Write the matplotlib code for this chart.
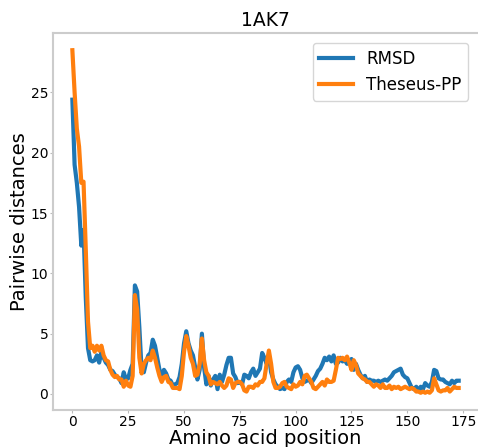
import matplotlib
matplotlib.use("Agg")
import matplotlib.pyplot as plt

# per-residue pairwise distances for 1AK7
rmsd = [24.4, 19.0, 17.5, 15.5, 12.3, 13.6, 8.0, 3.8, 2.8, 2.7,
        2.8, 3.2, 2.6, 3.5, 3.0, 2.6, 2.4, 2.0, 1.9, 1.6,
        1.4, 1.3, 0.9, 1.8, 1.2, 1.3, 2.0, 2.5, 9.0, 8.5,
        5.5, 2.0, 1.8, 2.6, 3.2, 3.4, 4.5, 4.0, 3.0, 2.0,
        1.5, 2.0, 1.7, 1.2, 1.1, 0.7, 0.8, 0.9, 1.4, 2.5,
        4.2, 5.2, 4.2, 3.6, 3.2, 2.2, 1.2, 2.0, 5.0, 2.2,
        0.8, 1.5, 0.7, 1.2, 1.5, 0.4, 1.6, 1.0, 1.6, 2.4,
        3.0, 3.0, 1.7, 1.4, 0.9, 1.0, 0.8, 1.6, 1.5, 1.3,
        1.8, 2.1, 1.5, 1.8, 2.1, 3.4, 3.0, 2.5, 3.2, 1.8,
        1.2, 0.8, 0.6, 0.4, 0.5, 0.4, 1.0, 1.2, 1.0, 1.8,
        2.2, 2.3, 2.0, 1.3, 1.0, 1.1, 1.2, 0.9, 1.2, 1.5,
        1.9, 2.1, 2.5, 3.0, 2.8, 3.1, 2.7, 3.2, 2.5, 2.6,
        3.0, 2.7, 2.8, 2.5, 2.7, 2.9, 2.0, 2.5, 2.0, 1.6,
        1.3, 1.5, 1.0, 1.2, 1.1, 1.1, 1.0, 1.1, 1.0, 1.1,
        1.2, 1.1, 1.3, 1.5, 1.8, 1.9, 2.0, 2.1, 1.6, 1.4,
        1.3, 0.9, 0.5, 0.4, 0.6, 0.3, 0.6, 0.4, 0.9, 0.7,
        0.6, 1.0, 2.0, 1.9, 1.3, 1.2, 1.2, 1.0, 0.9, 0.8,
        1.1, 0.9, 1.1, 1.1]

theseus = [28.5, 25.0, 22.0, 20.5, 17.5, 17.6, 12.0, 6.0, 3.8, 4.0,
           3.5, 4.0, 3.6, 4.0, 3.2, 2.8, 2.7, 2.0, 1.6, 1.4,
           1.5, 1.2, 1.2, 0.6, 1.1, 0.7, 0.6, 1.5, 8.2, 7.0,
           3.0, 1.7, 2.5, 2.8, 3.0, 2.8, 3.6, 3.0, 2.2, 1.5,
           1.0, 1.4, 1.5, 1.0, 0.9, 0.5, 0.5, 0.5, 0.4, 1.5,
           3.5, 4.8, 4.0, 3.0, 2.5, 1.5, 1.6, 2.5, 4.6, 2.8,
           1.8, 1.5, 0.8, 1.0, 0.9, 0.8, 1.0, 0.7, 0.5, 0.7,
           1.3, 1.2, 0.5, 0.9, 1.0, 1.0, 0.8, 0.3, 0.2, 0.6,
           0.6, 0.5, 0.8, 0.7, 1.0, 1.0, 1.3, 2.5, 3.6, 2.5,
           1.0, 0.5, 0.5, 0.6, 0.9, 1.0, 0.6, 0.5, 0.4, 0.8,
           0.6, 0.7, 1.0, 0.8, 1.5, 1.6, 1.3, 1.0, 0.5, 0.4,
           0.6, 0.8, 1.0, 0.7, 1.2, 1.0, 1.0, 1.1, 2.0, 3.0,
           2.9, 3.0, 2.8, 3.1, 2.6, 2.0, 2.8, 2.4, 1.7, 1.5,
           1.3, 1.2, 1.0, 1.0, 0.8, 0.6, 0.8, 0.7, 0.5, 0.8,
           0.5, 0.5, 0.7, 0.4, 0.6, 0.5, 0.6, 0.4, 0.5, 0.6,
           0.5, 0.4, 0.5, 0.4, 0.2, 0.2, 0.1, 0.2, 0.1, 0.2,
           0.1, 0.3, 1.3, 0.8, 0.3, 0.2, 0.3, 0.3, 0.5, 0.2,
           0.4, 0.6, 0.5, 0.5]

positions = list(range(len(rmsd)))

fig = plt.figure(figsize=(4.78, 4.47), dpi=100)
ax = fig.add_axes([0.111, 0.083, 0.889, 0.843])

ax.plot(positions, rmsd, color="#1f77b4", linewidth=3, label="RMSD")
ax.plot(positions, theseus, color="#ff7f0e", linewidth=3, label="Theseus-PP")

ax.set_title("1AK7", fontsize=13.5, pad=5)
ax.set_xlabel("Amino acid position", fontsize=14, labelpad=0)
ax.set_ylabel("Pairwise distances", fontsize=14, labelpad=1)
ax.tick_params(labelsize=10, color="#bbbbbb", length=2, pad=1.5)
ax.set_xticks([0, 25, 50, 75, 100, 125, 150, 175])
ax.set_yticks([0, 5, 10, 15, 20, 25])

for side in ["left", "bottom", "top"]:
    ax.spines[side].set_color("#cccccc")
    ax.spines[side].set_linewidth(1.5)
ax.spines["right"].set_visible(False)

ax.legend(fontsize=12, loc="upper right", borderaxespad=0.6)

fig.savefig("out.png", dpi=100)
